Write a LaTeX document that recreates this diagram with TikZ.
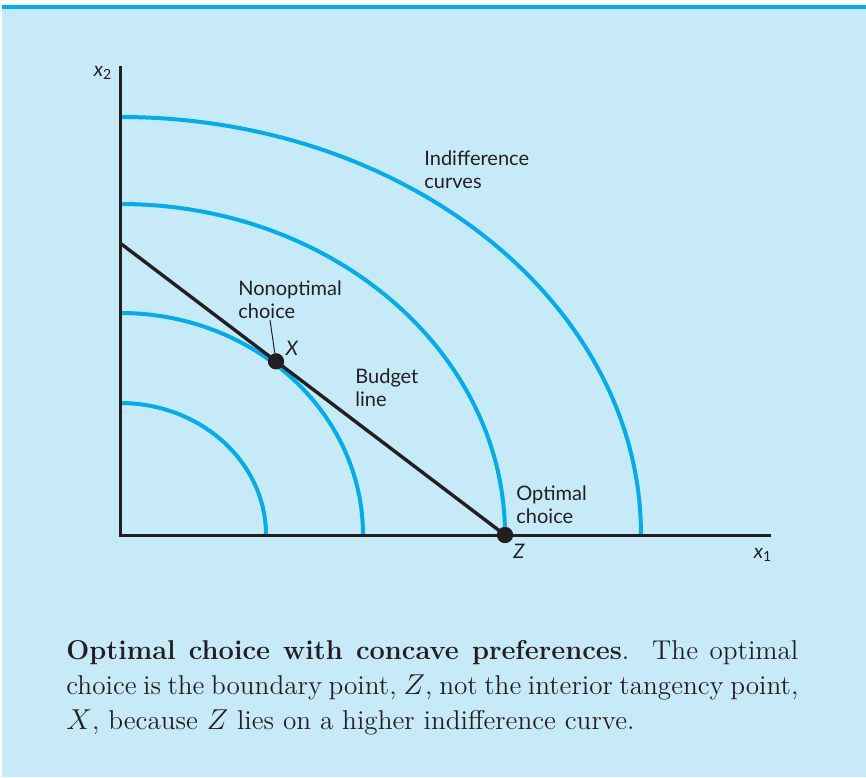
\documentclass[tikz,border=0pt]{standalone}
\usepackage{fontspec}
\setmainfont{Latin Modern Roman}
\newfontfamily\labelfont{Lato}
\usepackage{tikz}
\usetikzlibrary{positioning}
\definecolor{panelblue}{HTML}{C7EAF9}
\definecolor{curveblue}{HTML}{00AEEF}
\definecolor{inkblack}{HTML}{231F20}

\begin{document}
\begin{tikzpicture}[x=0.5pt, y=0.5pt,
    axis/.style={draw=inkblack, line width=1.5pt},
    icurve/.style={draw=curveblue, line width=2pt},
    lbl/.style={font=\labelfont\fontsize{10}{11.5}\selectfont, text=inkblack, inner sep=0pt, align=left},
    dot/.style={circle, fill=inkblack, inner sep=0pt, minimum size=8pt}]
    \useasboundingbox (-120,535) rectangle (746,-242);
    % panel
    \fill[panelblue] (-118,530) rectangle (746,-242);
    \fill[curveblue] (-118,530) rectangle (746,526);

    % indifference curves
    \draw[icurve] (146,0) arc[start angle=0, end angle=90, x radius=146, y radius=132];
    \draw[icurve] (243,0) arc[start angle=0, end angle=90, x radius=243, y radius=222];
    \draw[icurve] (385,0) arc[start angle=0, end angle=90, x radius=385, y radius=331];
    \draw[icurve] (521,0) arc[start angle=0, end angle=90, x radius=521, y radius=418];

    % axes
    \coordinate (O) at (0,0);
    \coordinate (ytop) at (0,469);
    \coordinate (xend) at (651,0);
    \draw[axis] (ytop) -- (O) -- (xend);
    \node[lbl] (x2) at (-17,462) {\itshape x\textsubscript{\upshape 2}};
    \node[lbl] (x1) at (643,-20) {\itshape x\textsubscript{\upshape 1}};

    % budget line
    \coordinate (B) at (0,292);
    \node[dot] (Z) at (385,0) {};
    \node[dot] (X) at (156,173.7) {};
    \draw[axis, line width=1.7pt] (B) -- (X.center) -- (Z.center);
    \node[dot] at (X) {};
    \node[dot] at (Z) {};

    % labels
    \node[lbl, anchor=west] (ind) at (304,365.5) {Indifference\\curves};
    \node[lbl, anchor=west] (nonopt) at (118,235.5) {Nonoptimal\\choice};
    \node[lbl, anchor=west] (budget) at (235,147) {Budget\\line};
    \node[lbl, anchor=west] (opt) at (396,30) {Optimal\\choice};
    \node[lbl] (Xlbl) at (172,187) {\itshape X};
    \node[lbl] (Zlbl) at (399,-16) {\itshape Z};
    \coordinate (ptr) at (150,215);
    \draw[inkblack, line width=0.5pt] (ptr) -- (X);

    % caption
    \node[anchor=base west, inner sep=0pt, text width=366pt, align=justify,
          font=\fontsize{13.6}{17.5}\selectfont, text=inkblack] (cap) at (-54,-124)
        {\textbf{Optimal choice with concave preferences}.\ \ The optimal\linebreak
         choice is the boundary point, $Z$, not the interior tangency point,\linebreak
         $X$, because $Z$ lies on a higher indifference curve.};
\end{tikzpicture}
\end{document}
